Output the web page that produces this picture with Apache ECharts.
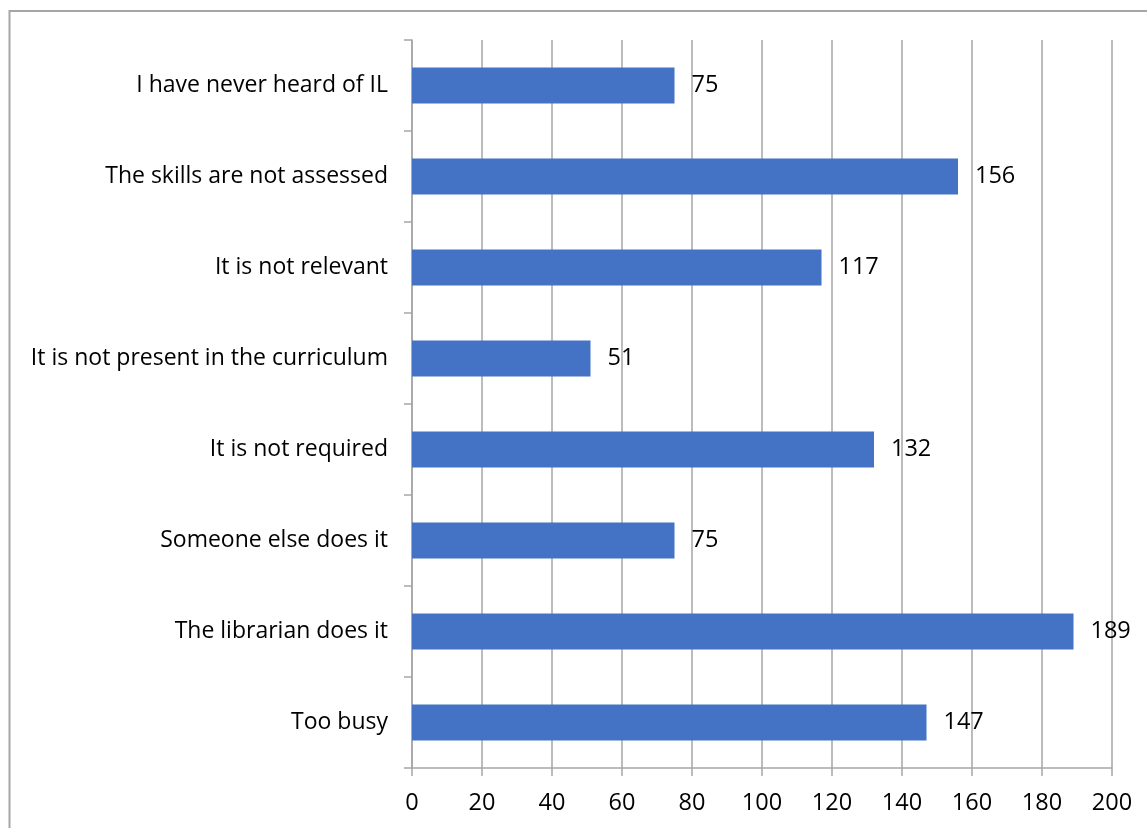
<!DOCTYPE html>
<html>
<head>
<meta charset="utf-8">
<script src="https://cdn.jsdelivr.net/npm/echarts@6/dist/echarts.min.js"></script>
<style>
html,body{margin:0;padding:0;background:#fff;}
#chart{width:1147px;height:828px;}
</style>
</head>
<body>
<div id="chart"></div>
<script>
const categories = [
  "I have never heard of IL",
  "The skills are not assessed",
  "It is not relevant",
  "It is not present in the curriculum",
  "It is not required",
  "Someone else does it",
  "The librarian does it",
  "Too busy"
];
const values = [75, 156, 117, 51, 132, 75, 189, 147];
const xTicks = { min: 0, max: 200, interval: 20 };

const FONT = "Open Sans";
const chart = echarts.init(document.getElementById('chart'));
chart.setOption({
  animation: false,
  backgroundColor: '#ffffff',
  textStyle: { fontFamily: FONT },
  graphic: [{
    type: 'rect',
    shape: { x: 9.5, y: 11, width: 2000, height: 2000 },
    style: { fill: 'none', stroke: '#a6a6a6', lineWidth: 2 },
    silent: true
  }],
  grid: { left: 412, right: 35, top: 40, bottom: 60, containLabel: false },
  xAxis: {
    type: 'value',
    min: xTicks.min, max: xTicks.max, interval: xTicks.interval,
    axisLine: { show: true, lineStyle: { color: '#a6a6a6', width: 1.5 } },
    axisTick: { show: true, length: 8, lineStyle: { color: '#a6a6a6', width: 1.5 } },
    axisLabel: { color: '#000', fontSize: 23.5, fontFamily: FONT, margin: 23 },
    splitLine: { show: true, lineStyle: { color: '#a6a6a6', width: 1.5 } }
  },
  yAxis: {
    type: 'category',
    data: categories,
    inverse: true,
    axisLine: { show: true, lineStyle: { color: '#a6a6a6', width: 1.5 } },
    axisTick: { show: true, length: 8, alignWithLabel: false, lineStyle: { color: '#a6a6a6', width: 1.5 } },
    axisLabel: { color: '#000', fontSize: 23, fontFamily: FONT, margin: 24 },
    splitLine: { show: false }
  },
  series: [{
    type: 'bar',
    data: values,
    barWidth: 36,
    itemStyle: { color: '#4472c4' },
    label: {
      show: true, position: 'right', distance: 17,
      color: '#000', fontSize: 23.5, fontFamily: FONT
    }
  }]
});
</script>
</body>
</html>
